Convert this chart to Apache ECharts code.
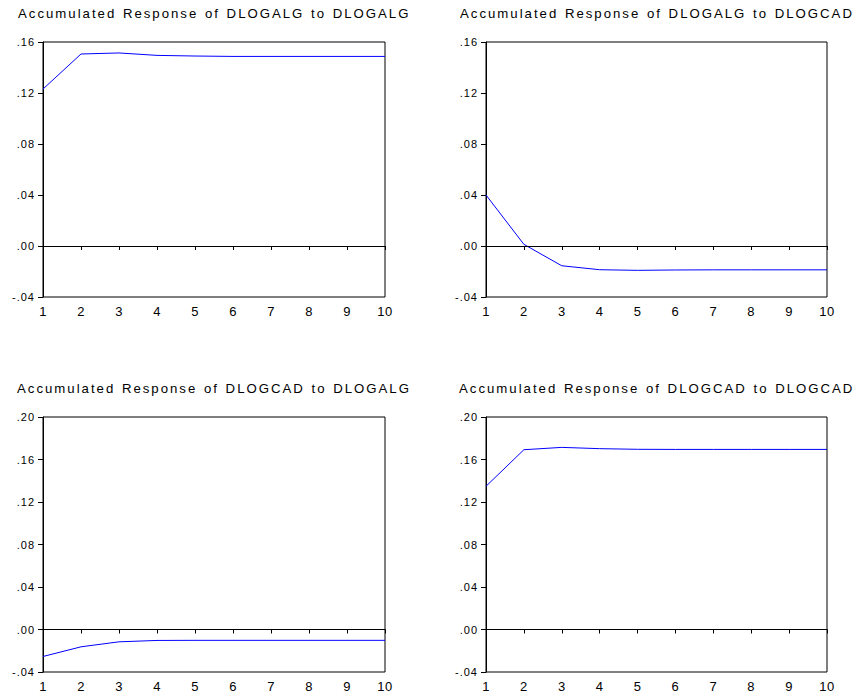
<!DOCTYPE html>
<html>
<head>
<meta charset="utf-8">
<script src="https://cdn.jsdelivr.net/npm/echarts@6/dist/echarts.min.js"></script>
<style>
  html, body { margin: 0; padding: 0; background: #fff; }
  #chart { width: 857px; height: 693px; }
  #chart text { letter-spacing: 1px; }
  #chart text[style*="13.2px"] { letter-spacing: 2px; word-spacing: 1px; }
  #chart text[style*="13px"] { letter-spacing: 0.5px; }
</style>
</head>
<body>
<div id="chart"></div>
<script>
// ---- data ----
var periods = ['1','2','3','4','5','6','7','8','9','10'];
var titles = [
  'Accumulated Response of DLOGALG to DLOGALG',
  'Accumulated Response of DLOGALG to DLOGCAD',
  'Accumulated Response of DLOGCAD to DLOGALG',
  'Accumulated Response of DLOGCAD to DLOGCAD'
];
var algToAlg = [0.1231, 0.1506, 0.1514, 0.1495, 0.1490, 0.1487, 0.1487, 0.1487, 0.1487, 0.1487];
var algToCad = [0.0400, 0.0013, -0.0155, -0.0186, -0.0191, -0.0188, -0.0187, -0.0187, -0.0187, -0.0187];
var cadToAlg = [-0.0254, -0.0163, -0.0116, -0.0103, -0.0102, -0.0102, -0.0102, -0.0102, -0.0102, -0.0102];
var cadToCad = [0.1348, 0.1692, 0.1714, 0.1702, 0.1696, 0.1695, 0.1695, 0.1695, 0.1695, 0.1695];
var yMinTop = -0.04, yMaxTop = 0.16;
var yMinBot = -0.04, yMaxBot = 0.20;
var yStep = 0.04;

var seriesData = [algToAlg, algToCad, cadToAlg, cadToCad];
var yRanges = [[yMinTop, yMaxTop], [yMinTop, yMaxTop], [yMinBot, yMaxBot], [yMinBot, yMaxBot]];

var FONT = '"Liberation Sans", Arial, sans-serif';
var gridPos = [
  {left: 43, top: 42, width: 342, height: 255},
  {left: 486, top: 42, width: 341, height: 255},
  {left: 43, top: 417, width: 342, height: 256},
  {left: 486, top: 417, width: 341, height: 256}
];
var titlePos = [
  {left: 18, top: 7},
  {left: 460, top: 7},
  {left: 17, top: 382},
  {left: 459, top: 382}
];

function fmt(v) {
  var s = (Math.round(v * 100) / 100).toFixed(2);
  return s.replace(/^(-?)0\./, '$1.');
}

var option = {
  backgroundColor: '#fff',
  animation: false,
  title: titles.map(function (t, i) {
    return {
      text: t, left: titlePos[i].left, top: titlePos[i].top, padding: 0,
      textStyle: {fontSize: 13.2, fontWeight: 'normal', color: '#000', fontFamily: FONT}
    };
  }),
  grid: gridPos.map(function (g) {
    return {left: g.left, top: g.top, width: g.width, height: g.height,
      show: true, borderColor: '#000', borderWidth: 1, backgroundColor: '#fff'};
  }),
  xAxis: gridPos.map(function (g, i) {
    return {
      type: 'category', gridIndex: i, data: periods, boundaryGap: false,
      axisLine: {show: true, lineStyle: {color: '#000', width: 1}},
      axisTick: {show: true, length: 4, lineStyle: {color: '#000'}, alignWithLabel: true},
      axisLabel: {color: '#000', fontSize: 13, fontFamily: FONT, margin: 8, interval: 0},
      splitLine: {show: false}
    };
  }),
  yAxis: gridPos.map(function (g, i) {
    return {
      type: 'value', gridIndex: i, min: yRanges[i][0], max: yRanges[i][1], interval: yStep,
      axisLine: {show: true, lineStyle: {color: '#000', width: 1}},
      axisTick: {show: true, length: 5, lineStyle: {color: '#000'}},
      axisLabel: {color: '#000', fontSize: 11, fontFamily: FONT, margin: 8, formatter: fmt},
      splitLine: {show: false}
    };
  }),
  series: seriesData.map(function (d, i) {
    return {
      type: 'line', xAxisIndex: i, yAxisIndex: i, data: d,
      showSymbol: false, symbol: 'none',
      lineStyle: {color: '#0000ff', width: 1},
      silent: true,
      markLine: {
        silent: true, symbol: ['none', 'none'], label: {show: false},
        lineStyle: {color: '#000', width: 1, type: 'solid'},
        data: [{yAxis: 0}]
      }
    };
  })
};

var chart = echarts.init(document.getElementById('chart'), null, {renderer: 'svg'});
chart.setOption(option);
</script>
</body>
</html>
